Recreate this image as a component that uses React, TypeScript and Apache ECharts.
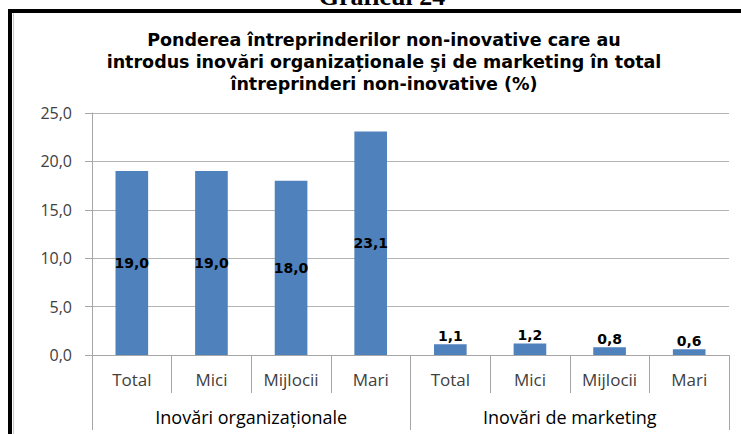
import React, { useEffect, useRef } from "react";
import * as echarts from "echarts";

const categories = ["Total", "Mici", "Mijlocii", "Mari", "Total", "Mici", "Mijlocii", "Mari"];
const groups = ["Inovări organizaționale", "Inovări de marketing"];
const values = [19.0, 19.0, 18.0, 23.1, 1.1, 1.2, 0.8, 0.6];
const labelPositions = ["inside", "inside", "inside", "inside", "top", "top", "top", "top"];
const titleLines = [
  "Ponderea întreprinderilor non-inovative care au",
  "introdus inovări organizaționale şi de marketing în total",
  "întreprinderi non-inovative (%)",
];
const headerText = "Graficul 24";

const fmt = (v: number) => v.toFixed(1).replace(".", ",");

export default function App() {
  const ref = useRef<HTMLDivElement>(null);
  useEffect(() => {
    if (!ref.current) return;
    const chart = echarts.init(ref.current, null, { renderer: "svg" });
    const font = '"Open Sans", sans-serif';
    chart.setOption({
      animation: false,
      backgroundColor: "#ffffff",
      title: {
        text: titleLines.join("\n"),
        left: 384,
        textAlign: "center",
        top: 29,
        padding: 0,
        textStyle: {
          fontFamily: '"DejaVu Sans", sans-serif',
          fontSize: 17.5,
          fontWeight: "bold",
          color: "#000000",
          lineHeight: 22,
        },
      },
      graphic: [
        {
          type: "text",
          x: 382,
          y: 9,
          style: {
            text: headerText,
            font: 'bold 26px "Liberation Serif", serif',
            fill: "#000",
            textAlign: "center",
            textVerticalAlign: "bottom",
          },
        },
        { type: "rect", shape: { x: 8, y: 9, width: 733, height: 4 }, style: { fill: "#000" } },
        { type: "rect", shape: { x: 8, y: 9, width: 4, height: 425 }, style: { fill: "#000" } },
        { type: "line", shape: { x1: 13.5, y1: 13, x2: 13.5, y2: 434 }, style: { stroke: "#c8c8c8", lineWidth: 1 } },
      ],
      grid: { left: 92, right: 12, top: 113, bottom: 79 },
      xAxis: [
        {
          type: "category",
          data: categories,
          position: "bottom",
          axisLine: { show: true, lineStyle: { color: "#a6a6a6" } },
          axisTick: { show: true, interval: 0, length: 38, lineStyle: { color: "#a6a6a6" } },
          axisLabel: { interval: 0, margin: 16, fontFamily: font, fontSize: 17, color: "#404040" },
          splitLine: { show: false },
        },
        {
          type: "category",
          data: groups,
          position: "bottom",
          axisLine: { show: true, lineStyle: { color: "#a6a6a6" } },
          axisTick: { show: true, interval: 0, length: 75, lineStyle: { color: "#a6a6a6" } },
          axisLabel: { interval: 0, margin: 53, fontFamily: font, fontSize: 18, color: "#000" },
          splitLine: { show: false },
        },
      ],
      yAxis: {
        type: "value",
        min: 0,
        max: 25,
        interval: 5,
        axisLine: { show: true, lineStyle: { color: "#a6a6a6" } },
        axisTick: { show: true, length: 7, lineStyle: { color: "#a6a6a6" } },
        axisLabel: { formatter: (v: number) => fmt(v), margin: 20, fontFamily: font, fontSize: 16, color: "#404040" },
        splitLine: { show: true, lineStyle: { color: "#b3b3b3" } },
      },
      series: [
        {
          type: "bar",
          xAxisIndex: 0,
          barCategoryGap: "59%",
          itemStyle: { color: "#4f81bd" },
          data: values.map((v, i) => ({
            value: v,
            label: {
              show: true,
              position: labelPositions[i],
              distance: 1,
              formatter: fmt(v),
              fontFamily: '"DejaVu Sans", sans-serif',
              fontWeight: "bold",
              fontSize: 14,
              color: "#000",
            },
          })),
        },
      ],
    });
    return () => chart.dispose();
  }, []);
  return <div ref={ref} style={{ position: "fixed", left: 0, top: 0, width: 741, height: 434 }} />;
}
